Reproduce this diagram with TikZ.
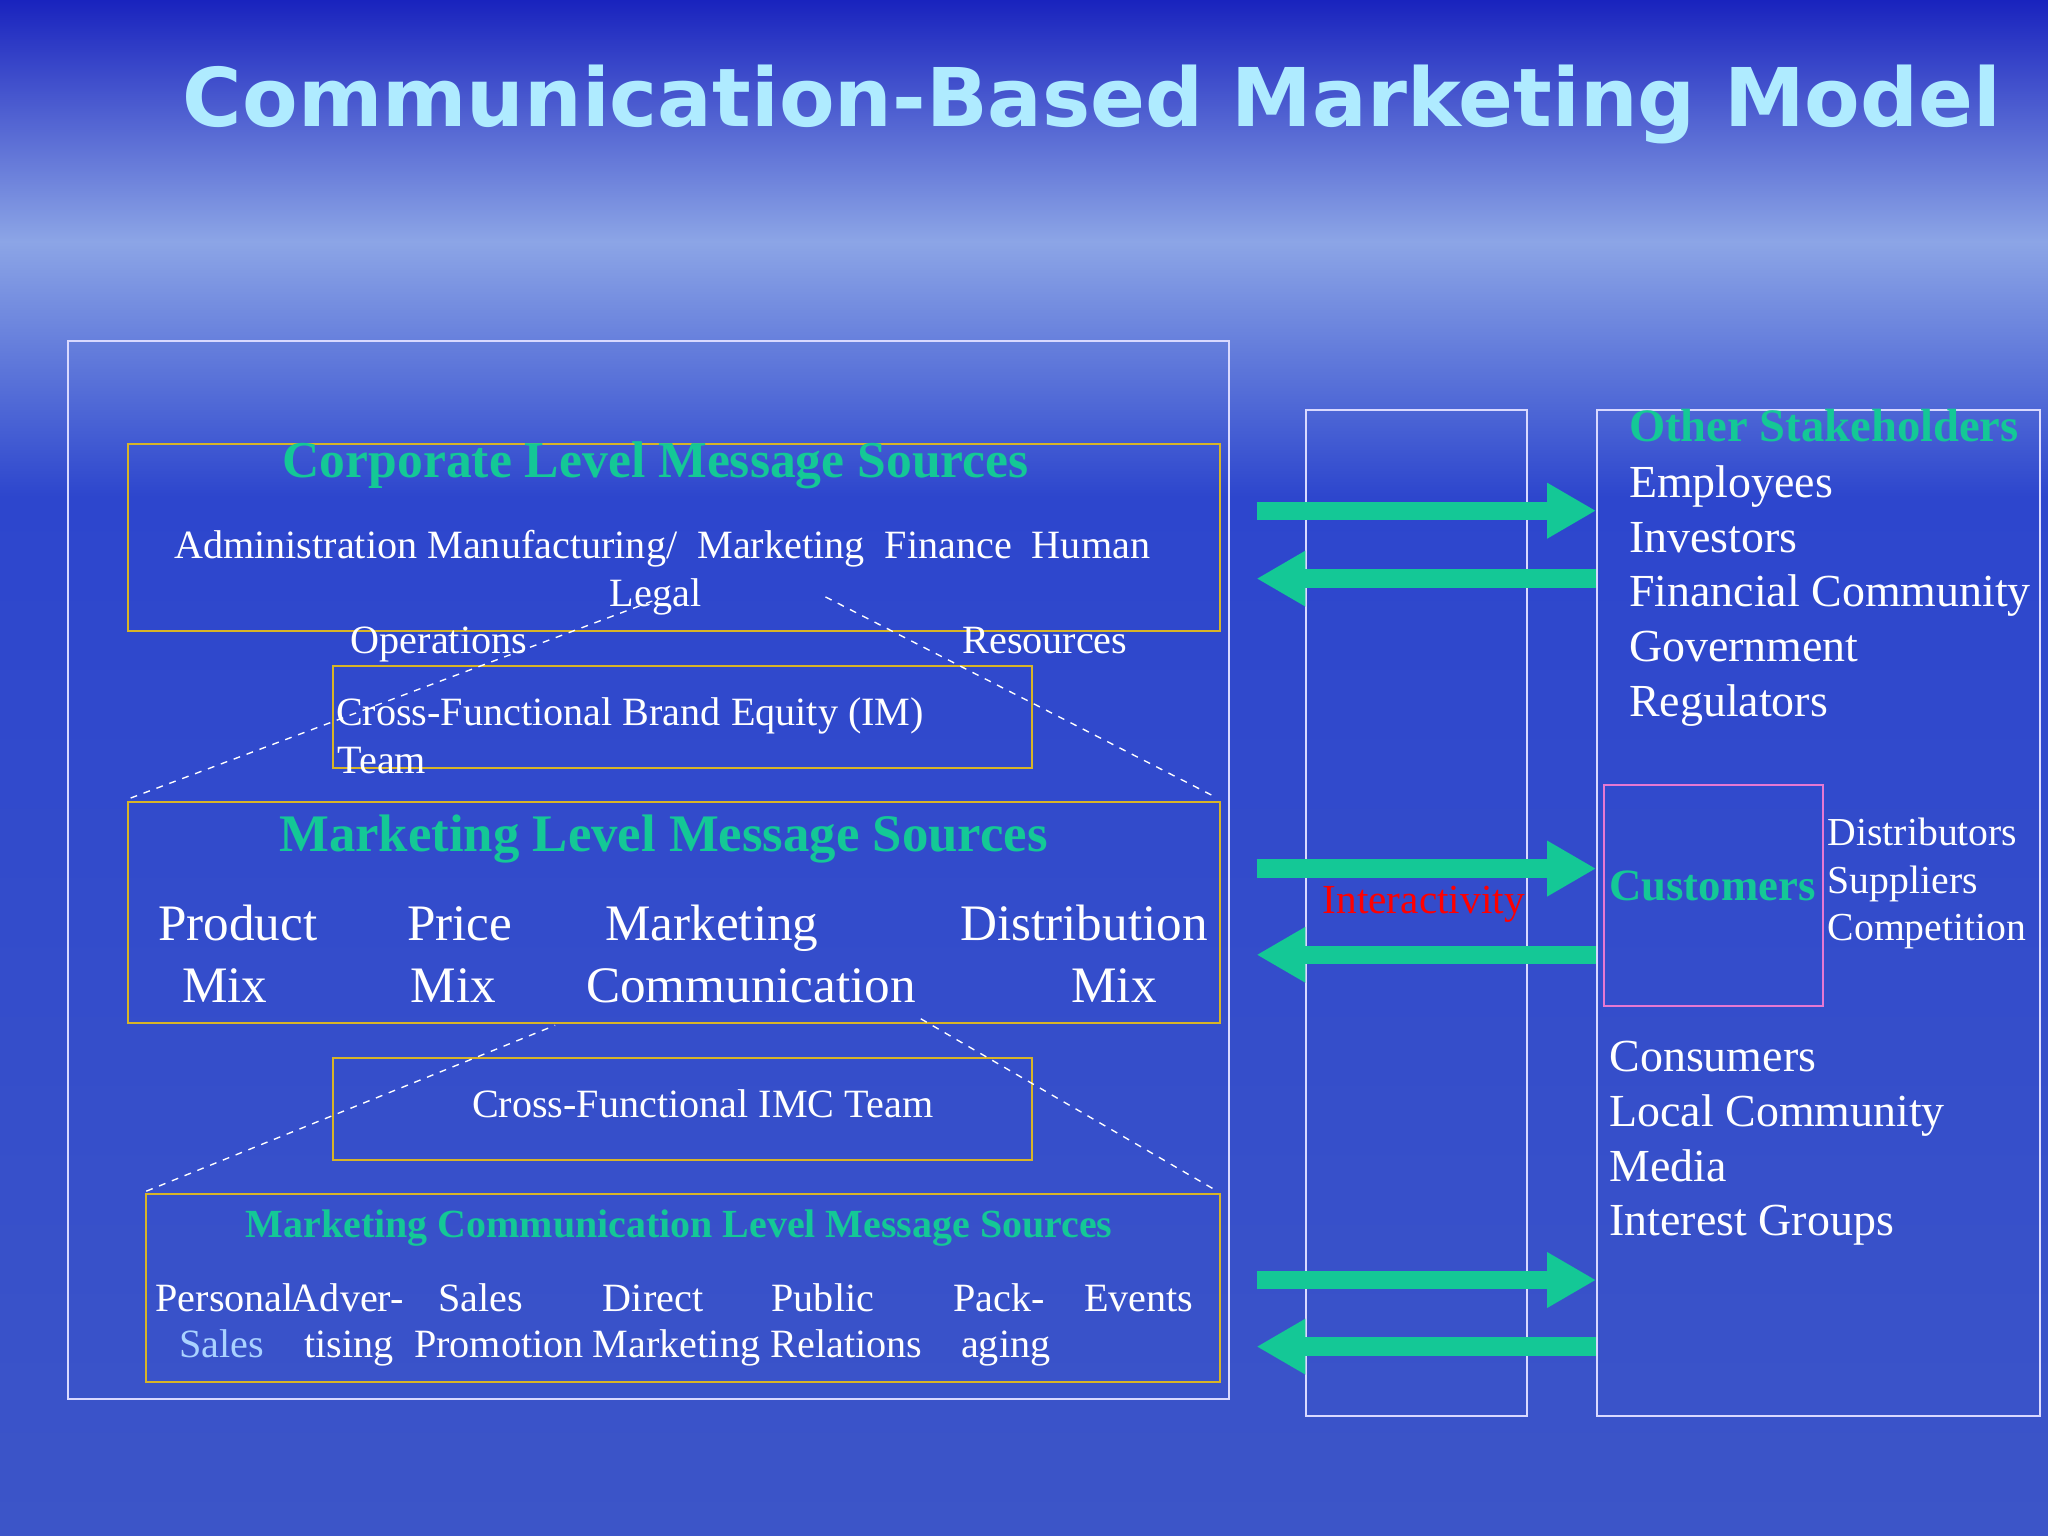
\documentclass[tikz,border=0pt]{standalone}
\usepackage{fontspec}
\setmainfont{Liberation Serif}
\newfontfamily\titlefont{DejaVu Sans}
\usetikzlibrary{arrows.meta}
\definecolor{bgtop}{RGB}{25,35,190}
\definecolor{bglight}{RGB}{140,165,230}
\definecolor{bgmid}{RGB}{45,70,205}
\definecolor{bgbot}{RGB}{60,85,200}
\definecolor{ttl}{RGB}{175,235,255}
\definecolor{grn}{RGB}{20,200,150}
\definecolor{gold}{RGB}{215,180,40}
\definecolor{pinkb}{RGB}{230,120,210}
\definecolor{lb}{RGB}{170,210,255}
\tikzset{
  wbox/.style={draw=white!85!blue, line width=0.8pt},
  ybox/.style={draw=gold, line width=0.9pt},
  dl/.style={draw=white, dashed, line width=0.6pt},
  gar/.style={draw=grn, line width=8pt, -{Triangle[length=0.75cm,width=0.8cm]}},
  txt/.style={text=white, inner sep=0pt, text height=0.7em, text depth=0.22em},
  gt/.style={text=grn, font=\bfseries, inner sep=0pt, text height=0.7em, text depth=0.22em},
}
\begin{document}
\begin{tikzpicture}[x=0.02cm,y=-0.02cm]
\useasboundingbox (0,0) rectangle (1568,1176);
\shade[top color=bgtop, bottom color=bglight] (0,0) rectangle (1568,185);
\shade[top color=bglight, bottom color=bgmid] (0,185) rectangle (1568,380);
\shade[top color=bgmid, bottom color=bgbot] (0,380) rectangle (1568,1176);
\node[text=ttl, font=\titlefont\bfseries\fontsize{35.3}{42}\selectfont, inner sep=0pt] (title) at (836,80) {Communication-Based Marketing Model};
% boxes
\draw[wbox] (52,261) rectangle (941,1071);
\draw[ybox] (98,340) rectangle (934,483);
\draw[ybox] (255,510) rectangle (790,588);
\draw[ybox] (98,614) rectangle (934,783);
\draw[ybox] (255,810) rectangle (790,888);
\draw[ybox] (112,914) rectangle (934,1058);
\draw[wbox] (1000,314) rectangle (1169,1084);
\draw[wbox] (1223,314) rectangle (1562,1084);
\draw[draw=pinkb, line width=0.9pt] (1228,601) rectangle (1396,770);
% dashed
\coordinate (d1a) at (100,611); \coordinate (d1b) at (500,460);
\coordinate (d2a) at (632,457); \coordinate (d2b) at (932,611);
\coordinate (d3a) at (112,912); \coordinate (d3b) at (425,785);
\coordinate (d4a) at (705,780); \coordinate (d4b) at (932,912);
\draw[dl] (d1a) -- (d1b); \draw[dl] (d2a) -- (d2b);
\draw[dl] (d3a) -- (d3b); \draw[dl] (d4a) -- (d4b);
% corporate
\node[gt, font=\bfseries\fontsize{22.5}{26}\selectfont] (ct) at (502,361) {Corporate Level Message Sources};
\tikzset{ct/.style={txt, font=\fontsize{17.5}{21}\selectfont}}
\node[ct, anchor=west] (cl) at (133,423) {Administration Manufacturing/\ \ Marketing\ \ Finance\ \ Human};
\node[ct] (cleg) at (502,460) {Legal};
\node[ct] (cop) at (336,496) {Operations};
\node[ct] (cres) at (800,496) {Resources};
\node[ct, anchor=west] (im1) at (257,551) {Cross-Functional Brand Equity (IM)};
\node[ct, anchor=west] (im2) at (258,588) {Team};
% marketing
\node[gt, font=\bfseries\fontsize{23}{26}\selectfont] (mt) at (508,648) {Marketing Level Message Sources};
\tikzset{mc/.style={txt, font=\fontsize{22.3}{26}\selectfont}}
\node[mc] (m1) at (182,716) {Product}; \node[mc] (m1b) at (172,763) {Mix};
\node[mc] (m2) at (352,716) {Price}; \node[mc] (m2b) at (347,763) {Mix};
\node[mc] (m3) at (545,716) {Marketing}; \node[mc] (m3b) at (575,763) {Communication};
\node[mc] (m4) at (830,716) {Distribution}; \node[mc] (m4b) at (853,763) {Mix};
\node[ct] (imc) at (538,851) {Cross-Functional IMC Team};
% marcom
\node[gt, font=\bfseries\fontsize{17.4}{21}\selectfont] (mct) at (520,943) {Marketing Communication Level Message Sources};
\tikzset{sc/.style={txt, font=\fontsize{17.5}{21}\selectfont}}
\node[sc] (s1) at (172,1000) {Personal}; \node[sc, text=lb] (s1b) at (170,1035) {Sales};
\node[sc] (s2) at (266,1000) {Adver-}; \node[sc] (s2b) at (267,1035) {tising};
\node[sc] (s3) at (368,1000) {Sales}; \node[sc] (s3b) at (382,1035) {Promotion};
\node[sc] (s4) at (500,1000) {Direct}; \node[sc] (s4b) at (518,1035) {Marketing};
\node[sc] (s5) at (630,1000) {Public}; \node[sc] (s5b) at (648,1035) {Relations};
\node[sc] (s6) at (765,1000) {Pack-}; \node[sc] (s6b) at (770,1035) {aging};
\node[sc] (s7) at (872,1000) {Events};
% interactivity
\node[txt, text=red, font=\fontsize{18}{22}\selectfont] (int) at (1090,695) {Interactivity};
% arrows
\foreach \n/\y in {a/391,b/665,c/980}{
  \coordinate (\n L) at (962,\y); \coordinate (\n R) at (1222,\y);
  \draw[gar] (\n L) -- (\n R);}
\foreach \n/\y in {d/443,e/731,f/1031}{
  \coordinate (\n L) at (962,\y); \coordinate (\n R) at (1222,\y);
  \draw[gar] (\n R) -- (\n L);}
% stakeholders
\node[gt, anchor=west, font=\bfseries\fontsize{20.3}{24}\selectfont] (os) at (1247,334) {Other Stakeholders};
\tikzset{st/.style={txt, anchor=west, font=\fontsize{20}{24}\selectfont}}
\node[st] (k1) at (1247,377) {Employees};
\node[st] (k2) at (1247,419) {Investors};
\node[st] (k3) at (1247,460) {Financial Community};
\node[st] (k4) at (1247,502) {Government};
\node[st] (k5) at (1247,544) {Regulators};
\node[gt, font=\bfseries\fontsize{19.5}{23}\selectfont] (cu) at (1311,685) {Customers};
\tikzset{st2/.style={txt, anchor=west, font=\fontsize{17.3}{21}\selectfont}}
\node[st2] (c1) at (1399,643) {Distributors};
\node[st2] (c2) at (1399,680) {Suppliers};
\node[st2] (c3) at (1399,716) {Competition};
\node[st] (o1) at (1232,816) {Consumers};
\node[st] (o2) at (1232,858) {Local Community};
\node[st] (o3) at (1232,900) {Media};
\node[st] (o4) at (1232,942) {Interest Groups};
\end{tikzpicture}
\end{document}
